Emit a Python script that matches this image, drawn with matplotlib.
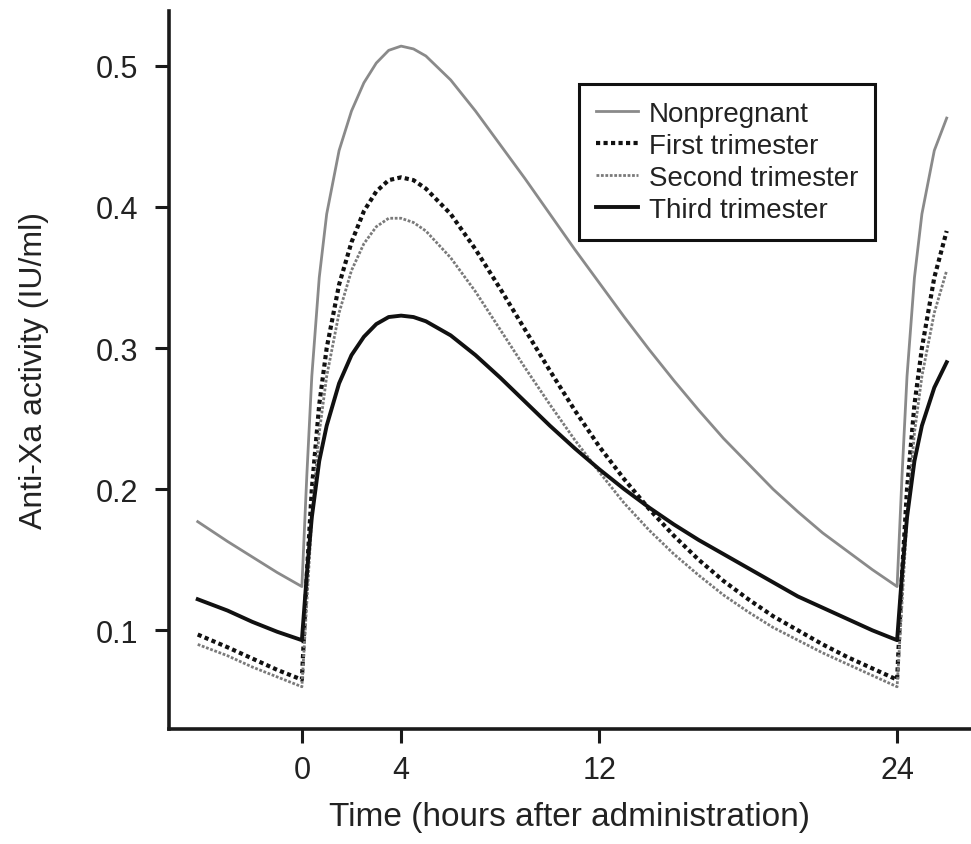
import matplotlib.pyplot as plt

plt.rcParams['font.family'] = ['Liberation Sans', 'DejaVu Sans']

# hours after administration
hours = [-4.2, -3, -2, -1, 0, 0.2, 0.4, 0.7, 1, 1.5, 2, 2.5, 3, 3.5, 4, 4.5, 5,
         6, 7, 8, 9, 10, 11, 12, 13, 14, 15, 16, 17, 18, 19, 20, 21, 22, 23, 24,
         24.2, 24.4, 24.7, 25, 25.5, 26]

# anti-Xa activity (IU/ml)
nonpregnant = [0.177, 0.163, 0.152, 0.141, 0.131, 0.21, 0.28, 0.35, 0.395, 0.44,
               0.468, 0.488, 0.502, 0.511, 0.514, 0.512, 0.507, 0.49, 0.468,
               0.444, 0.42, 0.395, 0.37, 0.346, 0.322, 0.299, 0.277, 0.256,
               0.236, 0.218, 0.2, 0.184, 0.169, 0.156, 0.143, 0.131,
               0.21, 0.28, 0.35, 0.395, 0.44, 0.463]
first_tri = [0.097, 0.088, 0.080, 0.072, 0.065, 0.14, 0.2, 0.26, 0.3, 0.345,
             0.375, 0.397, 0.411, 0.419, 0.421, 0.419, 0.413, 0.395, 0.37,
             0.342, 0.313, 0.284, 0.256, 0.23, 0.207, 0.186, 0.167, 0.15, 0.135,
             0.122, 0.11, 0.1, 0.09, 0.081, 0.073, 0.065,
             0.14, 0.2, 0.26, 0.3, 0.35, 0.383]
second_tri = [0.09, 0.082, 0.074, 0.067, 0.06, 0.12, 0.18, 0.24, 0.28, 0.325,
              0.355, 0.374, 0.386, 0.392, 0.392, 0.389, 0.383, 0.364, 0.34,
              0.313, 0.286, 0.26, 0.235, 0.212, 0.19, 0.171, 0.154, 0.139,
              0.125, 0.113, 0.102, 0.093, 0.084, 0.076, 0.068, 0.06,
              0.12, 0.18, 0.24, 0.28, 0.325, 0.355]
third_tri = [0.122, 0.114, 0.106, 0.099, 0.093, 0.14, 0.18, 0.22, 0.245, 0.275,
             0.295, 0.308, 0.317, 0.322, 0.323, 0.322, 0.319, 0.309, 0.295,
             0.279, 0.262, 0.245, 0.229, 0.214, 0.2, 0.187, 0.175, 0.164, 0.154,
             0.144, 0.134, 0.124, 0.116, 0.108, 0.1, 0.093,
             0.14, 0.18, 0.22, 0.245, 0.272, 0.29]

x_ticks = [0, 4, 12, 24]
y_ticks = [0.1, 0.2, 0.3, 0.4, 0.5]

fig = plt.figure(figsize=(9.71, 8.45), dpi=100)
ax = fig.add_axes([0.174, 0.136, 0.826, 0.85])

ax.plot(hours, nonpregnant, color='#8a8a8a', lw=2, label='Nonpregnant')
ax.plot(hours, first_tri, color='#111111', lw=3, linestyle=(0, (1, 0.8)),
        label='First trimester')
ax.plot(hours, second_tri, color='#7a7a7a', lw=2, linestyle=(0, (1, 0.6)),
        label='Second trimester')
ax.plot(hours, third_tri, color='#111111', lw=2.8, label='Third trimester')

ax.set_xlim(-5.36, 26.98)
ax.set_ylim(0.03, 0.539)
ax.set_xticks(x_ticks)
ax.set_yticks(y_ticks)
ax.set_yticklabels(['0.1', '0.2', '0.3', '0.4', '0.5'])

for side in ['top', 'right']:
    ax.spines[side].set_visible(False)
for side in ['left', 'bottom']:
    ax.spines[side].set_linewidth(2.6)
    ax.spines[side].set_color('#1a1a1a')

ax.tick_params(direction='out', length=10, width=2.2, color='#1a1a1a',
               labelsize=22, labelcolor='#222222')
ax.tick_params(axis='y', pad=12)
ax.tick_params(axis='x', pad=9)

ax.set_xlabel('Time (hours after administration)', fontsize=24,
              color='#222222')
ax.xaxis.set_label_coords(0.5, -0.1)
ax.set_ylabel('Anti-Xa activity (IU/ml)', fontsize=23, color='#222222')
ax.yaxis.set_label_coords(-0.15, 0.5)

leg = ax.legend(loc='upper right', bbox_to_anchor=(0.88, 0.898),
                borderaxespad=0, fontsize=20, labelspacing=0.22,
                handlelength=1.5, handletextpad=0.4, fancybox=False,
                framealpha=1, borderpad=0.6)
leg.get_frame().set_edgecolor('#111111')
leg.get_frame().set_linewidth(2.2)
for text in leg.get_texts():
    text.set_color('#222222')

plt.savefig('out.png', dpi=100)
